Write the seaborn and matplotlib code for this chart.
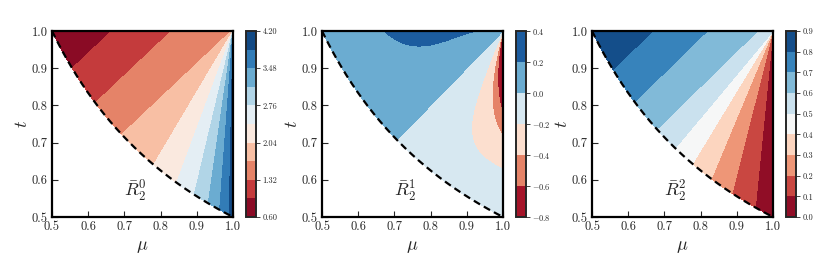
import numpy as np
import seaborn as sns
import matplotlib
matplotlib.use("Agg")
import matplotlib.pyplot as plt

# contour levels and ticks
r0_levels = [0.60, 0.96, 1.32, 1.68, 2.04, 2.40, 2.76, 3.12, 3.48, 3.84, 4.20]
r0_ticks = [0.60, 1.32, 2.04, 2.76, 3.48, 4.20]
r1_levels = [-0.8, -0.6, -0.4, -0.2, 0.0, 0.2, 0.4]
r1_ticks = [-0.8, -0.6, -0.4, -0.2, 0.0, 0.2, 0.4]
r2_levels = [0.0, 0.1, 0.2, 0.3, 0.4, 0.5, 0.6, 0.7, 0.8, 0.9]
r2_ticks = [0.0, 0.1, 0.2, 0.3, 0.4, 0.5, 0.6, 0.7, 0.8, 0.9]
mu_ticks = [0.5, 0.6, 0.7, 0.8, 0.9, 1.0]
t_ticks = [0.5, 0.6, 0.7, 0.8, 0.9, 1.0]
panel_names = [r"$\bar{R}_2^0$", r"$\bar{R}_2^1$", r"$\bar{R}_2^2$"]

# rough surface fits, estimated from where the colour bands meet the edges
# upper left: parallel bands of slope k ; lower right: rays out of (1, 1)
r0_band = [0.6, 2.18]          # c0 + c1*x along t=1, x = mu-0.5
r0_k = 0.92
r0_fan = [1.569, 0.442]        # a/(phi+b) on the rays
r2_band = [0.9, -0.565, -0.2]  # c0 + c1*x + c2*x^2
r2_k = 0.95
r2_fan = [0.66]                # linear in phi on the rays
r1_bump = [0.74, 0.5, 0.80, 0.16]     # lens along the top edge
r1_close = [1.104, 61.4]              # closes the red drops going down

mu = np.linspace(0.5, 1.0, 700)
t = np.linspace(0.5, 1.0, 700)
M, T = np.meshgrid(mu, t)
U = np.maximum(1 - M, 1e-9)
V = 1 - T
PHI = np.arctan2(U, V)
outside = T < 1 / (2 * M)


def band_and_fan(k, band, fan_fn):
    x = M + V / k - 0.5
    g = sum(c * x**n for n, c in enumerate(band))
    g_edge = sum(c * 0.5**n for n, c in enumerate(band))
    phi_k = np.arctan(1 / k)
    f = g_edge + fan_fn(PHI) - fan_fn(phi_k)
    return np.where(PHI >= phi_k, g, f)


R0 = band_and_fan(r0_k, r0_band, lambda p: r0_fan[0] / (p + r0_fan[1]))
R2 = band_and_fan(r2_k, r2_band, lambda p: r2_fan[0] * p)

b = r1_bump[0] + r1_bump[1] * np.exp(-((M - r1_bump[2]) / r1_bump[3]) ** 2)
R1 = (U - V) * 0.2 * b / (U + r1_close[0] * V**2 + r1_close[1] * V**6 + 1e-9)

sns.set_style("white")
plt.rcParams["font.family"] = ["serif"]
plt.rcParams["font.serif"] = ["cmr10", "DejaVu Serif"]
plt.rcParams["mathtext.fontset"] = "cm"
plt.rcParams["axes.formatter.use_mathtext"] = True
plt.rcParams["axes.unicode_minus"] = True

cmap = sns.color_palette("RdBu", as_cmap=True)

fig = plt.figure(figsize=(8.3, 2.66), dpi=100)

fields = [R0, R1, R2]
levels = [r0_levels, r1_levels, r2_levels]
cticks = [r0_ticks, r1_ticks, r2_ticks]
cfmt = ["%.2f", None, "%.1f"]

mu_line = np.linspace(0.5, 1.0, 300)

for i in range(3):
    left = (52 + 270 * i) / 830
    ax = fig.add_axes([left, 49 / 266, 181 / 830, 186 / 266])
    cax = fig.add_axes([left + 194 / 830, 49 / 266, 9.5 / 830, 186 / 266])

    lv = levels[i]
    Z = np.clip(fields[i], lv[0], lv[-1])
    Z = np.ma.masked_where(outside, Z)
    cs = ax.contourf(M, T, Z, levels=lv, cmap=cmap, vmin=lv[0], vmax=lv[-1])

    sns.lineplot(x=mu_line, y=1 / (2 * mu_line), ax=ax, color="black",
                 linewidth=1.6, linestyle=(0, (3.2, 2.0)))

    ax.set_xlim(0.5, 1.0)
    ax.set_ylim(0.5, 1.0)
    ax.set_xticks(mu_ticks)
    ax.set_yticks(t_ticks)
    ax.set_xticklabels([f"{v:.1f}" for v in mu_ticks])
    ax.set_yticklabels([f"{v:.1f}" for v in t_ticks])
    ax.tick_params(direction="in", length=4, width=0.8, labelsize=9,
                   bottom=True, left=True, pad=3)
    for sp in ax.spines.values():
        sp.set_linewidth(1.6)
        sp.set_color("black")
    ax.set_xlabel(r"$\mu$", fontsize=13, labelpad=4)
    ax.set_ylabel(r"$t$", fontsize=13, labelpad=1)
    ax.text(0.73, 0.57, panel_names[i], fontsize=13, ha="center", va="center")

    cb = fig.colorbar(cs, cax=cax, ticks=cticks[i], format=cfmt[i])
    cb.outline.set_linewidth(1.4)
    cb.ax.tick_params(labelsize=6, length=3, width=0.6, direction="out", pad=2)

fig.savefig("out.png", dpi=100)
